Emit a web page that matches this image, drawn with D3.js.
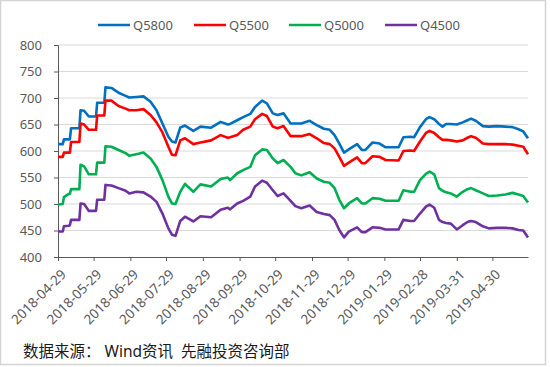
<!DOCTYPE html>
<html>
<head>
  <meta charset="utf-8">
  <script src="https://d3js.org/d3.v7.min.js"></script>
  <style>
    body { margin: 0; background: #fff; }
    text { font-family: "Noto Sans", "Noto Sans CJK SC", sans-serif; }
  </style>
</head>
<body>
<script>
  // dates of the read points (daily data thinned to the turning points)
  var dates = [
    "2018-04-29","2018-05-03","2018-05-04","2018-05-08","2018-05-09","2018-05-10","2018-05-17","2018-05-18",
    "2018-05-21","2018-05-25","2018-05-31","2018-06-01","2018-06-07","2018-06-08","2018-06-13","2018-06-19",
    "2018-06-25","2018-06-28","2018-07-04","2018-07-10","2018-07-16","2018-07-21","2018-07-26","2018-07-31",
    "2018-08-03","2018-08-06","2018-08-10","2018-08-14","2018-08-21","2018-08-27","2018-09-05","2018-09-13",
    "2018-09-19","2018-09-21","2018-09-27","2018-10-02","2018-10-08","2018-10-12","2018-10-18","2018-10-22",
    "2018-10-27","2018-10-31","2018-11-05","2018-11-11","2018-11-15","2018-11-20","2018-11-27","2018-12-03",
    "2018-12-09","2018-12-14","2018-12-18","2018-12-22","2018-12-26","2018-12-30","2019-01-06","2019-01-10",
    "2019-01-13","2019-01-19","2019-01-25","2019-01-30","2019-02-10","2019-02-14","2019-02-20","2019-02-23",
    "2019-02-28","2019-03-05","2019-03-08","2019-03-12","2019-03-16","2019-03-19","2019-03-22","2019-03-26",
    "2019-03-31","2019-04-05","2019-04-09","2019-04-12","2019-04-16","2019-04-22","2019-04-27","2019-05-04",
    "2019-05-11","2019-05-17","2019-05-22","2019-05-26","2019-05-30"
  ];

  var q5800 = [613,613,622,622,622,643,643,677, 676,665,665,691,691,720,719,710,
               704,701,702,703,693,677,652,627, 618,616,644,648,638,646,644,655,
               650,651,658,664,670,683,695,690, 671,668,671,652,652,652,657,649,
               642,640,630,614,597,603,613,602, 602,616,614,607,607,626,627,626,
               645,660,664,660,651,646,651,651, 650,654,658,661,657,647,646,647,
               646,645,641,637,624];
  var q5500 = [589,589,597,597,597,617,617,652, 650,640,640,667,667,695,695,685,
               680,677,677,679,668,654,635,608, 593,592,620,624,613,616,620,630,
               625,626,630,640,646,660,670,666, 646,643,647,628,628,628,632,624,
               615,613,605,589,572,578,588,577, 577,590,589,583,582,600,601,600,
               618,634,638,634,626,621,621,620, 618,620,625,628,625,614,613,613,
               613,612,610,608,594];
  var q5000 = [499,500,513,519,519,528,528,574, 571,556,556,578,578,609,608,602,
               596,591,594,597,586,570,545,514, 501,500,523,538,523,537,533,547,
               550,545,558,564,570,592,603,602, 586,577,583,570,558,554,560,548,
               542,540,530,508,492,501,511,501, 501,511,510,506,506,526,523,523,
               545,557,561,556,530,525,522,520, 514,523,528,530,526,520,515,516,
               518,521,518,515,503];
  var q4500 = [448,448,458,459,460,470,470,501, 500,487,487,508,508,536,535,530,
               525,520,523,522,514,504,482,454, 442,440,468,476,467,477,475,489,
               493,490,501,506,514,533,544,540, 526,515,520,506,496,492,497,485,
               481,479,470,451,437,448,456,447, 447,456,455,452,452,470,468,468,
               482,495,499,493,470,466,464,463, 452,460,466,468,466,458,454,455,
               455,454,451,450,437];

  var seriesNames = ["Q5800", "Q5500", "Q5000", "Q4500"];
  var seriesValues = [q5800, q5500, q5000, q4500];
  var seriesColors = ["#0070C0", "#FF0000", "#00B050", "#7030A0"];
  var xTickLabels = ["2018-04-29","2018-05-29","2018-06-29","2018-07-29","2018-08-29","2018-09-29","2018-10-29",
                     "2018-11-29","2018-12-29","2019-01-29","2019-02-28","2019-03-31","2019-04-30"];
  var yTicks = [400, 450, 500, 550, 600, 650, 700, 750, 800];

  (function () {
    var W = 550, H = 367;
    var pLeft = 58, pRight = 528, pTop = 45, pBottom = 257;
    var parse = d3.timeParse("%Y-%m-%d");

    var svg = d3.select("body").append("svg")
        .attr("width", W).attr("height", H);

    svg.append("rect")
        .attr("x", 0.5).attr("y", 0.5).attr("width", 545).attr("height", 364)
        .attr("fill", "#fff").attr("stroke", "#d4d4d4").attr("stroke-width", 1.5);

    var x = d3.scaleTime()
        .domain([parse("2018-04-29"), parse("2019-05-30")])
        .range([pLeft, pRight]);
    var y = d3.scaleLinear().domain([400, 800]).range([pBottom, pTop]);

    // gridlines
    svg.append("g").selectAll("line")
        .data(yTicks.slice(1))
        .enter().append("line")
          .attr("x1", pLeft).attr("x2", pRight)
          .attr("y1", function (d) { return y(d); })
          .attr("y2", function (d) { return y(d); })
          .attr("stroke", "#d9d9d9").attr("stroke-width", 1);

    // y axis
    var yAxis = svg.append("g")
        .attr("transform", "translate(" + pLeft + ",0)")
        .call(d3.axisLeft(y).tickValues(yTicks).tickSize(4).tickPadding(12));
    yAxis.select(".domain").attr("stroke", "#595959");
    yAxis.selectAll(".tick line").attr("stroke", "#595959");
    yAxis.selectAll("text").attr("fill", "#595959").style("font-size", "13px");

    // x axis
    var xAxis = svg.append("g")
        .attr("transform", "translate(0," + pBottom + ")")
        .call(d3.axisBottom(x)
          .tickValues(xTickLabels.map(parse))
          .tickSize(4)
          .tickSizeOuter(0)
          .tickFormat(d3.timeFormat("%Y-%m-%d")));
    xAxis.select(".domain").attr("stroke", "#595959");
    xAxis.selectAll(".tick line").attr("stroke", "#595959");
    xAxis.selectAll("text")
        .attr("fill", "#595959")
        .style("font-size", "13.5px")
        .attr("text-anchor", "end")
        .attr("x", 0).attr("y", 0).attr("dy", "0.35em")
        .attr("transform", "translate(5,15) rotate(-45)");

    // lines
    var line = d3.line()
        .x(function (d) { return x(d[0]); })
        .y(function (d) { return y(d[1]); });

    seriesValues.forEach(function (vals, i) {
      var pts = dates.map(function (s, j) { return [parse(s), vals[j]]; });
      svg.append("path")
          .datum(pts)
          .attr("fill", "none")
          .attr("stroke", seriesColors[i])
          .attr("stroke-width", 2.6)
          .attr("stroke-linejoin", "round")
          .attr("d", line);
    });

    // legend
    var legendX = [98, 194, 289, 385];
    var legend = svg.append("g").selectAll("g")
        .data(seriesNames)
        .enter().append("g")
          .attr("transform", function (d, i) { return "translate(" + legendX[i] + ",25)"; });
    legend.append("line")
        .attr("x1", 0).attr("x2", 32)
        .attr("stroke", function (d, i) { return seriesColors[i]; })
        .attr("stroke-width", 2.5);
    legend.append("text")
        .attr("x", 35).attr("dy", "0.35em")
        .attr("fill", "#595959")
        .style("font-size", "13px")
        .text(function (d) { return d; });

    // source
    svg.append("text")
        .attr("x", 23).attr("y", 357)
        .attr("fill", "#1a1a1a")
        .style("font-size", "15.5px")
        .style("white-space", "pre")
        .text("数据来源： Wind资讯  先融投资咨询部");
  })();
</script>
</body>
</html>
